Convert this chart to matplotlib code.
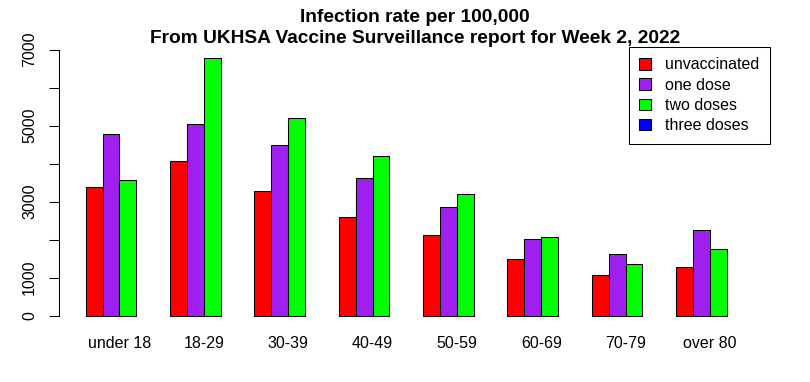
import matplotlib
matplotlib.use("Agg")

import numpy as np
import matplotlib.pyplot as plt
from matplotlib.patches import Patch

plt.rcParams["font.family"] = ["Liberation Sans", "DejaVu Sans"]

age_groups = ["under 18", "18-29", "30-39", "40-49", "50-59", "60-69", "70-79", "over 80"]
unvaccinated = [3390, 4065, 3275, 2600, 2125, 1495, 1075, 1275]
one_dose = [4770, 5040, 4495, 3625, 2845, 2005, 1610, 2240]
two_doses = [3560, 6770, 5205, 4205, 3205, 2075, 1365, 1750]
three_doses = [np.nan] * 8  # not reported in this table

series = [unvaccinated, one_dose, two_doses, three_doses]
names = ["unvaccinated", "one dose", "two doses", "three doses"]
colors = ["#ff0000", "#a020f0", "#00ff00", "#0000ff"]

W, H = 810, 382
fig = plt.figure(figsize=(W / 100, H / 100), dpi=100)
left, right, top, bottom = 59.4, 770, 47, 326
ax = fig.add_axes([left / W, 1 - bottom / H, (right - left) / W, (bottom - top) / H])

fs = 11.5
n = len(series)
group = n + 1
for k, (vals, col) in enumerate(zip(series, colors)):
    xs = np.arange(len(age_groups)) * group + 1 + k
    ax.bar(xs, vals, width=1, align="edge", color=col, edgecolor="black", linewidth=0.75)

centers = np.arange(len(age_groups)) * group + 1 + n / 2
ax.set_xlim(-0.56, 41.56)
ax.set_ylim(-276, 7066)

for s in ["top", "right", "bottom"]:
    ax.spines[s].set_visible(False)
ax.spines["left"].set_bounds(0, 7000)
ax.spines["left"].set_linewidth(0.75)

ax.set_xticks(centers)
ax.set_xticklabels(age_groups, fontsize=fs)
ax.tick_params(axis="x", length=0, pad=7)

ax.set_yticks(np.arange(0, 7001, 1000))
ax.set_yticklabels(["0", "1000", "", "3000", "", "5000", "", "7000"],
                   rotation=90, va="center", fontsize=fs)
ax.tick_params(axis="y", length=7, width=0.75, pad=9)

ax.set_title("Infection rate per 100,000\nFrom UKHSA Vaccine Surveillance report for Week 2, 2022",
             fontsize=13.8, fontweight="bold", pad=3, linespacing=1.3)

handles = [Patch(facecolor=c, edgecolor="black", linewidth=0.75) for c in colors]
leg = ax.legend(handles, names, loc="upper right", bbox_to_anchor=(1, 1), borderaxespad=0,
                fontsize=fs, fancybox=False, edgecolor="black", framealpha=1,
                handlelength=0.75, handleheight=0.75, handletextpad=0.9,
                borderpad=0.65, labelspacing=0.33)
leg.get_frame().set_linewidth(0.75)

fig.savefig("out.png", dpi=100)
